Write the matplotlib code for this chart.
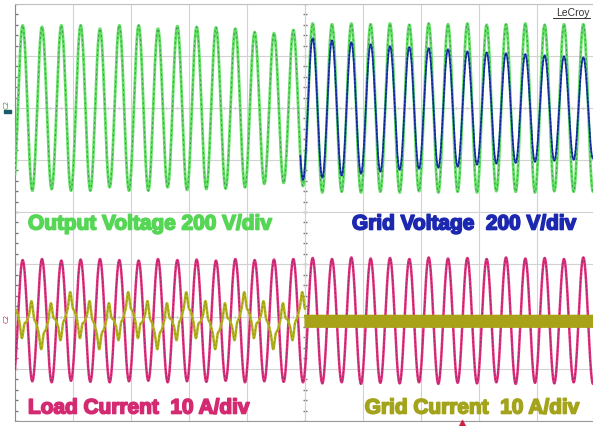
import numpy as np
import matplotlib.pyplot as plt
import matplotlib.patheffects as pe
from matplotlib.font_manager import FontProperties

# scope settings
freq = 60.0            # Hz
t_peak0 = 6.6          # ms, first voltage peak
t_switch = 246.0       # ms, grid connection instant
offset_bot = -0.8      # A, zero level of the current channels

# per-cycle peak values (cycle k = peak k and the trough after it)
green_amp = [318, 312, 318, 318, 305, 318, 318, 305, 315, 312,
             310, 305, 292, 288, 300, 325, 322, 325, 322, 325,
             320, 325, 322, 325, 320, 322, 325, 320, 322, 322]       # V
blue_amp = [276, 268, 260, 253, 245, 238, 234, 230,
            226, 218, 214, 211, 207, 203, 199, 195]                   # V, cycles 14..29
load_amp = [11.6, 11.8, 11.5, 11.7, 11.8, 11.6, 11.5, 11.8, 11.6, 11.7,
            11.5, 11.8, 11.6, 11.7, 11.8, 12.0, 11.8, 12.1, 11.9, 12.0,
            11.8, 12.1, 11.9, 12.0, 11.8, 12.1, 11.9, 12.0, 11.8, 12.1]  # A

# grid current before connection: harmonic content (order, A, lag ms)
gc_order = [1, 3, 5, 1 / 3]
gc_amp = [3.0, 0.9, 0.3, 1.3]
gc_lag = [14.4, 3.0, 1.0, 49.0]
band_half = 1.1        # A, switching ripple after connection

T = 1000.0 / freq
t = np.linspace(0, 500, 8000)


def cycle_wave(tt, amps, first=0):
    k = np.floor((tt - t_peak0 + T / 4) / T).astype(int) - first
    k = np.clip(k, 0, len(amps) - 1)
    return np.asarray(amps)[k] * np.cos(2 * np.pi * (tt - t_peak0) / T)


fig = plt.figure(figsize=(5.93, 4.27), dpi=100)
ax_top = fig.add_axes([15 / 593, (427 - 213) / 427, 580 / 593, 208 / 427])
ax_bot = fig.add_axes([15 / 593, (427 - 422) / 427, 580 / 593, 209 / 427])

for ax, lim in [(ax_top, 400), (ax_bot, 20)]:
    ax.set_xlim(0, 500)
    ax.set_ylim(-lim, lim)
    ax.set_xticks(np.arange(0, 501, 50))
    ax.set_yticks(np.linspace(-lim, lim, 5))
    ax.grid(True, color='#d2d2d2', lw=0.8)
    ax.tick_params(length=0, labelbottom=False, labelleft=False)
    for s in ax.spines.values():
        s.set_visible(False)
    ax.spines['left'].set_visible(True)
    ax.spines['left'].set_color('#8a8a8a')
    # small division ticks on the centre lines
    ax.plot(np.arange(0, 501, 10), np.zeros(51), ls='none', marker='|',
            ms=2, color='#b0b0b0', zorder=1)
    yy = np.linspace(-lim, lim, 21)
    ax.plot(np.full(21, 250), yy, ls='none', marker='_', ms=3,
            color='#777777', zorder=1)
    ax.plot(np.full(21, 0.8), yy, ls='none', marker='_', ms=3,
            color='#777777', zorder=1)
    ax.axvline(250, color='#9a9a9a', lw=0.8, ls=(0, (1, 2)), zorder=1)

ax_top.spines['top'].set_visible(True)
ax_top.spines['top'].set_color('#c0c0c0')
ax_bot.spines['bottom'].set_visible(True)
ax_bot.spines['bottom'].set_color('#9a9a9a')

# output voltage (green) and grid voltage (blue)
vout = cycle_wave(t, green_amp)
ax_top.plot(t, vout, color='#62e062', lw=2.0, zorder=3)
ax_top.plot(t, vout, color='#3f8f55', lw=0.7, ls=(0, (2, 3)), zorder=4)

tb = t[t >= t_switch]
vgrid = cycle_wave(tb, blue_amp, first=14)
ax_top.plot(tb, vgrid, color='#2340c0', lw=1.3, zorder=5)
ax_top.plot(tb, vgrid, color='#0a1660', lw=0.7, ls=(0, (2, 2)), zorder=6)

# load current (pink)
iload = cycle_wave(t, load_amp) + offset_bot
ax_bot.plot(t, iload, color='#e0307c', lw=1.8, zorder=3)
ax_bot.plot(t, iload, color='#7a2a70', lw=0.6, ls=(0, (2, 3)), zorder=4)

# grid current (olive): distorted before connection, ripple band after
ta = t[t < t_switch + 4]
ig = np.zeros_like(ta) + offset_bot
for n, a, lag in zip(gc_order, gc_amp, gc_lag):
    ig += a * np.cos(2 * np.pi * n * (ta - lag) / T)
ax_bot.plot(ta, ig, color='#b4b41e', lw=1.8, zorder=5)
ax_bot.plot(ta, ig, color='#8c8c14', lw=0.6, ls=(0, (2, 3)), zorder=6)

tr = np.linspace(t_switch + 4, 500, 30000)
ir = offset_bot - 0.1 + band_half * np.sin(2 * np.pi * tr / 0.83)
ax_bot.plot(tr, ir, color='#a8a218', lw=1.2, zorder=5)

# channel labels
fp = FontProperties(family='Liberation Sans', weight='bold', size=15)


def label(x, y, s, c, ha='left'):
    fig.text(x / 593, 1 - y / 427, s, color=c, ha=ha, va='center',
             fontproperties=fp,
             path_effects=[pe.withStroke(linewidth=1.2, foreground=c)])


label(28, 225, 'Output Voltage 200 V/div', '#55d655')
label(577, 225, 'Grid Voltage  200 V/div', '#1c28b0', ha='right')
label(28, 409, 'Load Current  10 A/div', '#d42a72')
label(580, 409, 'Grid Current  10 A/div', '#a4a41c', ha='right')

# scope decorations
fig.text(590 / 593, 1 - 13 / 427, 'LeCroy', fontsize=7.5, color='#333333',
         ha='right', va='center', family='Liberation Sans')
fig.add_artist(plt.Line2D([553 / 593, 590 / 593], [1 - 19 / 427, 1 - 19 / 427],
                          color='#333333', lw=0.7))
fig.text(7 / 593, 1 - 104 / 427, 'C2', fontsize=5, color='#3c9a3c', rotation=90,
         ha='center', va='center')
fig.add_artist(plt.Rectangle((4 / 593, 1 - 114 / 427), 7 / 593, 3 / 427,
                             color='#1d5a6a'))
fig.text(7 / 593, 1 - 318 / 427, 'C2', fontsize=5, color='#c03060', rotation=90,
         ha='center', va='center')
# trigger position marker
fig.add_artist(plt.Line2D([462 / 593], [1 - 424 / 427], marker='^', ms=4,
                          color='#d02040', ls='none'))

fig.savefig('out.png', dpi=100)
